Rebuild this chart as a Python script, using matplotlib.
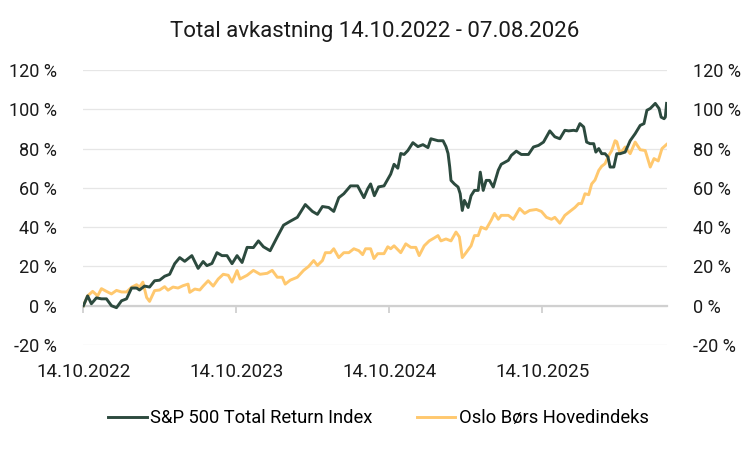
import pandas as pd
import matplotlib
matplotlib.use('Agg')
import matplotlib.pyplot as plt
from matplotlib.ticker import FuncFormatter

plt.rcParams['font.family'] = ['Roboto', 'DejaVu Sans']

start = pd.Timestamp('2022-10-14')
slutt = pd.Timestamp('2026-08-07')

# S&P 500 Total Return Index (dager etter start, avkastning i %)
sp_dag = [0, 10, 19, 31, 43, 55, 67, 79, 91, 103, 115, 127, 134, 146, 158, 170, 182,
          194, 206, 218, 230, 242, 259, 274, 286, 295, 307, 319, 331, 343, 355, 367,
          379, 391, 406, 418, 430, 446, 463, 478, 494, 511, 530, 547, 559, 571, 586,
          598, 610, 622, 638, 655, 670, 679, 686, 695, 705, 718, 734, 742, 751, 758,
          766, 775, 787, 799, 811, 823, 830, 847, 859, 866, 871, 875, 878, 886, 895,
          900, 905, 910, 919, 926, 934, 943, 948, 955, 962, 970, 979, 991, 998, 1015,
          1022, 1034, 1046, 1063, 1075, 1087, 1099, 1114, 1126, 1138, 1150, 1159, 1171,
          1178, 1186, 1195, 1202, 1210, 1219, 1224, 1231, 1238, 1246, 1253, 1258, 1267,
          1274, 1282, 1294, 1306, 1318, 1330, 1339, 1346, 1354, 1366, 1375, 1380, 1387,
          1390, 1393]
sp_val = [0, 5, 1, 4, 3.5, 3.5, 0, -1, 2.5, 3.5, 9, 9, 8, 10, 9.5, 12.7, 13,
          15, 16, 21.4, 24.5, 22.6, 25.5, 19, 22.5, 20.4, 21.5, 27, 25.5, 25.5, 21.4, 25.5,
          22, 29.7, 29.6, 33, 30, 28, 35, 41, 43, 45, 51.5, 48, 46.5, 50.5, 50,
          48, 55, 57, 61, 61, 55, 59.5, 62, 56, 60.5, 61, 67, 72, 70, 77.5,
          77, 79, 83, 81, 82, 80.5, 85, 84, 84, 81, 77.5, 70.6, 63.8, 62, 60.4,
          57, 48.5, 53.6, 50, 56, 58.7, 58.7, 68, 58.7, 63.8, 63.8, 60.4, 69, 72, 74,
          76.5, 78.7, 77, 77, 80.8, 81.6, 83.3, 89, 86, 85, 89.3, 89, 89.3,
          89, 92.7, 91, 83.3, 82.5, 82.5, 78.2, 80, 77.4, 77.4, 75.7, 70.6, 70.6,
          77.4, 77.4, 78.2, 84, 87.6, 91.8, 92.7, 99.5, 100.4, 103, 100.4, 96, 95.2,
          96, 103]

# Oslo Børs Hovedindeks
obx_dag = [0, 10, 22, 34, 43, 55, 67, 79, 91, 103, 115, 127, 134, 142, 151, 158, 170,
           182, 194, 202, 214, 226, 238, 250, 254, 266, 278, 286, 298, 310, 322, 334,
           346, 355, 367, 374, 391, 406, 422, 439, 451, 463, 475, 482, 494, 511, 526,
           538, 550, 559, 571, 578, 590, 598, 610, 622, 634, 646, 658, 667, 674, 686,
           694, 703, 718, 727, 734, 742, 758, 770, 782, 794, 802, 814, 826, 838, 847,
           854, 866, 878, 890, 898, 905, 914, 926, 934, 943, 950, 962, 974, 982, 991,
           998, 1015, 1027, 1042, 1054, 1066, 1082, 1094, 1106, 1118, 1126, 1138, 1150,
           1162, 1174, 1183, 1190, 1198, 1207, 1214, 1222, 1231, 1238, 1246, 1255, 1262,
           1270, 1274, 1282, 1294, 1306, 1318, 1330, 1342, 1354, 1363, 1373, 1382, 1393]
obx_val = [0, 5, 7.3, 5, 8.7, 7.3, 6, 7.8, 7, 7, 9.4, 10.7, 9.5, 12, 4.2, 2.2, 7.7,
           8, 9.7, 7.9, 9.5, 9, 10.2, 11, 6.8, 8.5, 8, 10, 12.7, 10, 13.6, 16,
           15.5, 12, 17.9, 13.6, 15.5, 18, 16, 16.5, 18, 14.5, 14.5, 11, 13, 14.5, 18,
           20, 23, 20.5, 23, 27, 27, 29, 24.5, 27, 27, 29, 28, 26, 29, 29,
           24, 26.5, 26.5, 30, 29, 30.5, 27, 31.5, 29.7, 29.7, 25.5, 30.5, 33, 34.5, 35.7,
           33, 34, 33, 37.5, 35, 24.5, 27, 30.5, 35.7, 35.7, 40, 39, 43.5, 47, 44,
           46, 46, 44, 49.5, 47, 48.5, 49, 48, 45, 44, 45, 42, 46,
           48, 50, 52, 52, 57, 56.5, 62, 64, 68.9, 71, 72.3, 76.5, 79,
           84, 83.5, 77.4, 80.8, 77.4, 83.3, 79.4, 79, 70.6, 74.9, 73.7, 80, 82.1]

tick_datoer = ['2022-10-14', '2023-10-14', '2024-10-14', '2025-10-14']
tick_tekst = ['14.10.2022', '14.10.2023', '14.10.2024', '14.10.2025']

gronn = '#2C4A3E'
gul = '#FFC86E'
tekst = '#1a1a1a'

fig = plt.figure(figsize=(7.54, 4.54), dpi=100)
ax = fig.add_axes([83 / 754, 1 - 345 / 454, (667 - 83) / 754, 275 / 454])

sp_x = start + pd.to_timedelta(sp_dag, unit='D')
obx_x = start + pd.to_timedelta(obx_dag, unit='D')
ax.plot(sp_x, sp_val, color=gronn, lw=2.1, label='S&P 500 Total Return Index', zorder=3)
ax.plot(obx_x, obx_val, color=gul, lw=2.1, label='Oslo Børs Hovedindeks', zorder=2)

ax.set_xlim(start - pd.Timedelta(days=1), slutt + pd.Timedelta(days=1))
ax.set_ylim(-20, 120)
ax.set_yticks(range(-20, 121, 20))
pct = FuncFormatter(lambda v, p: f'{v:.0f} %')
ax.yaxis.set_major_formatter(pct)
ax.grid(axis='y', color='#E6E6E6', lw=0.9)
ax.set_axisbelow(True)

for s in ['top', 'right', 'left']:
    ax.spines[s].set_visible(False)
ax.spines['bottom'].set_position(('data', 0))
ax.spines['bottom'].set_color('#D0D0D0')
ax.spines['bottom'].set_linewidth(1.6)
ax.spines['bottom'].set_zorder(1)

tpos = [pd.Timestamp(d) for d in tick_datoer]
ax.set_xticks(tpos)
ax.tick_params(axis='x', direction='out', length=5, width=1.3, color='#D0D0D0', labelbottom=False)
ax.tick_params(axis='y', length=0, labelsize=13, pad=19, labelcolor=tekst)

sec = ax.secondary_xaxis('bottom')
sec.set_xticks(tpos)
sec.set_xticklabels(tick_tekst)
sec.tick_params(length=0, labelsize=13.5, pad=13, labelcolor=tekst)
sec.spines['bottom'].set_visible(False)

ax2 = ax.twinx()
ax2.set_ylim(-20, 120)
ax2.set_yticks(range(-20, 121, 20))
ax2.yaxis.set_major_formatter(pct)
ax2.tick_params(axis='y', length=0, labelsize=13, pad=19, labelcolor=tekst)
for s in ax2.spines.values():
    s.set_visible(False)

fig.suptitle('Total avkastning 14.10.2022 - 07.08.2026', x=0.497, y=1 - 32 / 454,
             va='center', fontsize=16, color=tekst)

fig.legend(loc='center', bbox_to_anchor=(0.502, 1 - 418 / 454), ncol=2, frameon=False,
           fontsize=13.2, handlelength=2.1, handletextpad=0.2, columnspacing=2.4)

fig.savefig('out.png', dpi=100)
